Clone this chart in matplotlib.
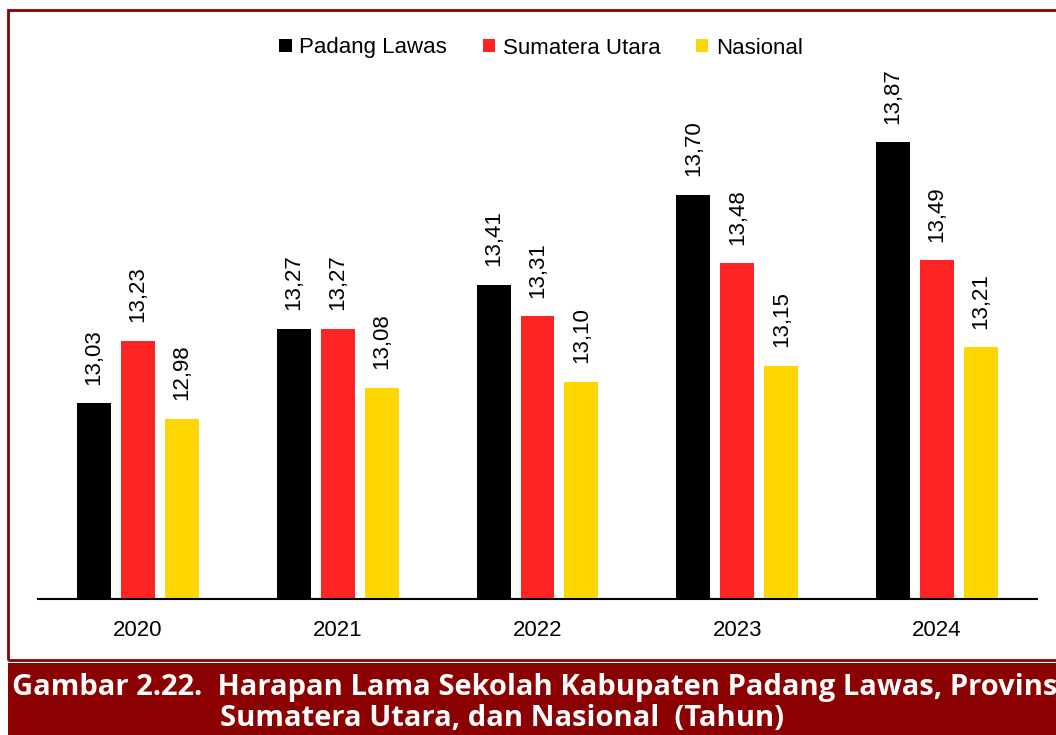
import matplotlib
matplotlib.use("Agg")
import matplotlib.pyplot as plt
from matplotlib.patches import Rectangle

years = ["2020", "2021", "2022", "2023", "2024"]
padang_lawas = [13.03, 13.27, 13.41, 13.70, 13.87]
sumatera_utara = [13.23, 13.27, 13.31, 13.48, 13.49]
nasional = [12.98, 13.08, 13.10, 13.15, 13.21]
series_names = ["Padang Lawas", "Sumatera Utara", "Nasional"]
colors = ["#000000", "#FF2323", "#FFD700"]

W, H = 1056, 735
fig = plt.figure(figsize=(W / 100, H / 100), dpi=100)
plt.rcParams['font.family'] = ['Liberation Sans', 'DejaVu Sans']

def fx(px):
    return px / W

def fy(py):
    return 1 - py / H

ax_left, ax_right, ax_top, ax_bottom = 38, 1037, 20, 599
ax = fig.add_axes([fx(ax_left), fy(ax_bottom), fx(ax_right - ax_left), (ax_bottom - ax_top) / H])
ymin = 12.4
ymax = ymin + (ax_bottom - ax_top) / 310.7
ax.set_ylim(ymin, ymax)
ax.set_xlim(-0.5, len(years) - 0.5)

width = 0.17
offsets = [-0.22, 0.0, 0.22]
all_series = [padang_lawas, sumatera_utara, nasional]
handles = []
for vals, off, col, name in zip(all_series, offsets, colors, series_names):
    xs = [i + off for i in range(len(years))]
    bars = ax.bar(xs, [v - ymin for v in vals], width=width, bottom=ymin, color=col, label=name)
    handles.append(bars)
    for x, v in zip(xs, vals):
        ax.annotate(f"{v:.2f}".replace(".", ","), (x, v), xytext=(0, 13.5), textcoords="offset points",
                    rotation=90, ha="center", va="bottom", fontsize=16, color="#000000")

for s in ["top", "right", "left"]:
    ax.spines[s].set_visible(False)
ax.spines["bottom"].set_linewidth(1.5)
ax.spines["bottom"].set_color("#000000")
ax.set_yticks([])
ax.set_xticks(range(len(years)))
ax.set_xticklabels(years, fontsize=16)
ax.tick_params(axis="x", length=0, pad=15)

leg = fig.legend(handles=handles, labels=series_names, loc="center", bbox_to_anchor=(fx(541), fy(48)),
                 ncol=3, frameon=False, fontsize=16, handlelength=0.55, handleheight=0.55,
                 handletextpad=0.35, columnspacing=1.6)

# chart border
fig.patches.append(Rectangle((fx(8), fy(660)), fx(1100 - 8), (660 - 10) / H, transform=fig.transFigure,
                             fill=False, edgecolor="#8B0000", linewidth=2, clip_on=False))
# caption band
fig.patches.append(Rectangle((fx(8), 0), fx(W - 8), (H - 663) / H, transform=fig.transFigure,
                             facecolor="#8B0000", edgecolor="none"))
fig.text(fx(12), fy(687), "Gambar 2.22.  Harapan Lama Sekolah Kabupaten Padang Lawas, Provinsi",
         color="white", fontsize=21, fontweight="bold", family=["Open Sans", "DejaVu Sans"],
         ha="left", va="center")
fig.text(fx(220), fy(719), "Sumatera Utara, dan Nasional  (Tahun)",
         color="white", fontsize=21, fontweight="bold", family=["Open Sans", "DejaVu Sans"],
         ha="left", va="center")

fig.savefig("out.png", dpi=100)
